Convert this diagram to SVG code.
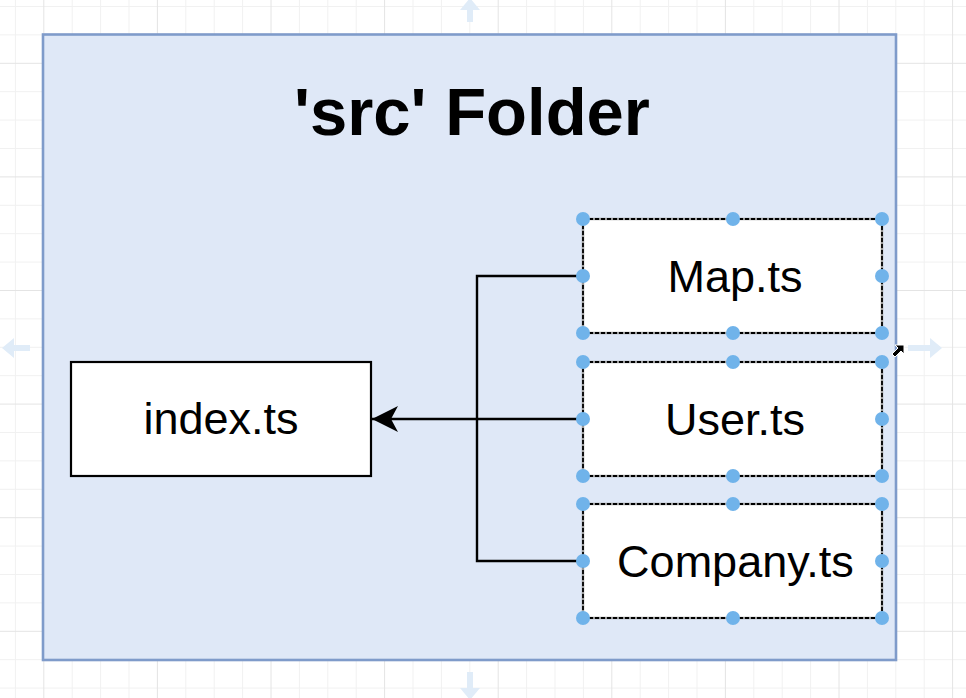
<svg xmlns="http://www.w3.org/2000/svg" width="966" height="698" viewBox="0 0 966 698">
<style>
.grid-minor{stroke:#f1f1f1;stroke-width:1;fill:none}
.grid-major{stroke:#e4e4e4;stroke-width:1;fill:none}
.hover{fill:#e0ecf8}
.label{font-family:"Liberation Sans",Arial,Helvetica,sans-serif;fill:#000;text-anchor:middle}
.file{fill:#fff;stroke:#000;stroke-width:2.2}
.sel{fill:none;stroke:#000;stroke-width:1.8;stroke-dasharray:4 2}
.selbg{fill:#fff;stroke:#9a9a9a;stroke-width:2.4}
.handle{fill:#70b3ea}
.conn{fill:none;stroke:#000;stroke-width:2.4}
</style>
<defs>
<marker id="arrow" markerUnits="userSpaceOnUse" markerWidth="30" markerHeight="30" refX="26" refY="13" orient="auto" viewBox="0 0 30 30">
<path d="M26 13 L0 0 L7 13 L0 26 Z" fill="#000"/>
</marker>
</defs>
<rect width="966" height="698" fill="#fff"/>
<g id="grid">
<path class="grid-minor" d="M15.4 0V698M72.2 0V698M100.6 0V698M129 0V698M185.8 0V698M214.2 0V698M242.6 0V698M299.4 0V698M327.8 0V698M356.2 0V698M413 0V698M441.4 0V698M469.8 0V698M526.6 0V698M555 0V698M583.4 0V698M640.2 0V698M668.6 0V698M697 0V698M753.8 0V698M782.2 0V698M810.6 0V698M867.4 0V698M895.8 0V698M924.2 0V698M0 6.5H966M0 34.9H966M0 91.7H966M0 120.1H966M0 148.5H966M0 205.3H966M0 233.7H966M0 262.1H966M0 318.9H966M0 347.3H966M0 375.7H966M0 432.5H966M0 460.9H966M0 489.3H966M0 546.1H966M0 574.5H966M0 602.9H966M0 659.7H966M0 688.1H966"/>
<path class="grid-major" d="M43.8 0V698M157.4 0V698M271 0V698M384.6 0V698M498.2 0V698M611.8 0V698M725.4 0V698M839 0V698M952.6 0V698M0 63.3H966M0 176.9H966M0 290.5H966M0 404.1H966M0 517.7H966M0 631.3H966"/>
</g>
<g id="hover-arrows">
<path class="hover" d="M470 -2 L480 10 L473 10 L473 22 L467 22 L467 10 L460 10 Z"/>
<path class="hover" d="M470 700 L480 688 L473 688 L473 672 L467 672 L467 688 L460 688 Z"/>
<path class="hover" d="M2 348 L14 338 L14 345 L30 345 L30 351 L14 351 L14 358 Z"/>
<path class="hover" d="M942 348 L930 338 L930 345 L908 345 L908 351 L930 351 L930 358 Z"/>
</g>
<g id="src-folder">
<rect x="43" y="34.5" width="853" height="625.5" fill="#dfe8f7" stroke="#7f9bca" stroke-width="2.6"/>
<text class="label" x="472" y="135" font-size="67" font-weight="bold">'src' Folder</text>
</g>
<g id="index-ts">
<rect class="file" x="71" y="362" width="300" height="114"/>
<text class="label" x="221" y="434" font-size="45">index.ts</text>
</g>
<g id="connectors">
<path class="conn" d="M583 419 H372" marker-end="url(#arrow)"/>
<path class="conn" d="M583 276 H477 V561 H583"/>
</g>
<g id="map-ts">
<rect class="selbg" x="583" y="219" width="299" height="114"/>
<rect class="sel" x="583" y="219" width="299" height="114"/>
<text class="label" x="735" y="292" font-size="45">Map.ts</text>
<circle class="handle" cx="583" cy="219" r="7"/><circle class="handle" cx="733" cy="219" r="7"/><circle class="handle" cx="882" cy="219" r="7"/>
<circle class="handle" cx="583" cy="276" r="7"/><circle class="handle" cx="882" cy="276" r="7"/>
<circle class="handle" cx="583" cy="333" r="7"/><circle class="handle" cx="733" cy="333" r="7"/><circle class="handle" cx="882" cy="333" r="7"/>
</g>
<g id="user-ts">
<rect class="selbg" x="583" y="362" width="299" height="114"/>
<rect class="sel" x="583" y="362" width="299" height="114"/>
<text class="label" x="735" y="435" font-size="45">User.ts</text>
<circle class="handle" cx="583" cy="362" r="7"/><circle class="handle" cx="733" cy="362" r="7"/><circle class="handle" cx="882" cy="362" r="7"/>
<circle class="handle" cx="583" cy="419" r="7"/><circle class="handle" cx="882" cy="419" r="7"/>
<circle class="handle" cx="583" cy="476" r="7"/><circle class="handle" cx="733" cy="476" r="7"/><circle class="handle" cx="882" cy="476" r="7"/>
</g>
<g id="company-ts">
<rect class="selbg" x="583" y="504" width="299" height="114"/>
<rect class="sel" x="583" y="504" width="299" height="114"/>
<text class="label" x="735.5" y="577" font-size="45">Company.ts</text>
<circle class="handle" cx="583" cy="504" r="7"/><circle class="handle" cx="733" cy="504" r="7"/><circle class="handle" cx="882" cy="504" r="7"/>
<circle class="handle" cx="583" cy="561" r="7"/><circle class="handle" cx="882" cy="561" r="7"/>
<circle class="handle" cx="583" cy="618" r="7"/><circle class="handle" cx="733" cy="618" r="7"/><circle class="handle" cx="882" cy="618" r="7"/>
</g>
<g id="cursor">
<path d="M904 345 L904 354 L901 351 L895 357 L892 354 L898 348 L895 345 Z" fill="#000" stroke="#fff" stroke-width="1"/>
</g>
</svg>
